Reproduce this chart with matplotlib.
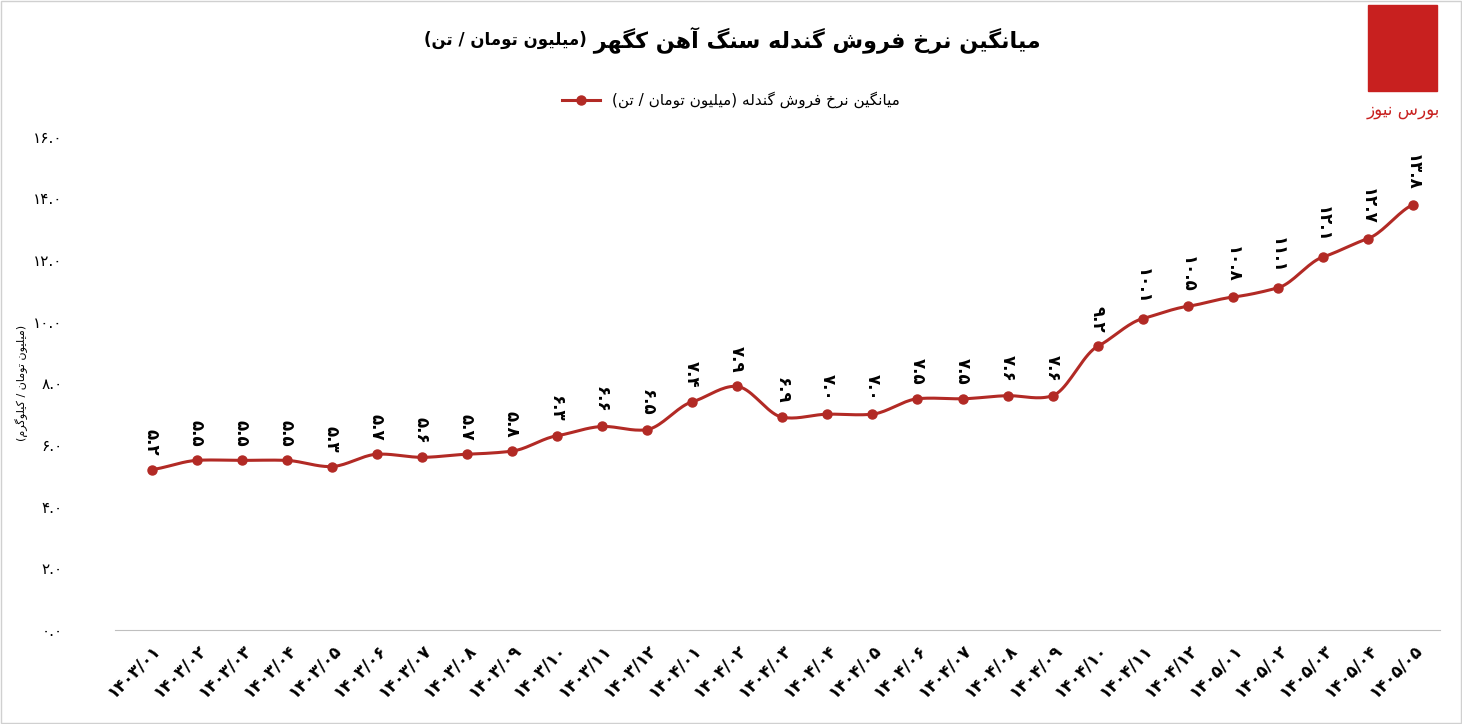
import numpy as np
import matplotlib.pyplot as plt
from matplotlib.patches import Rectangle

months = ['1403/01', '1403/02', '1403/03', '1403/04', '1403/05', '1403/06', '1403/07', '1403/08',
          '1403/09', '1403/10', '1403/11', '1403/12', '1404/01', '1404/02', '1404/03', '1404/04',
          '1404/05', '1404/06', '1404/07', '1404/08', '1404/09', '1404/10', '1404/11', '1404/12',
          '1405/01', '1405/02', '1405/03', '1405/04', '1405/05']
values = [5.2, 5.5, 5.5, 5.5, 5.3, 5.7, 5.6, 5.7, 5.8, 6.3, 6.6, 6.5, 7.4, 7.9, 6.9, 7.0,
          7.0, 7.5, 7.5, 7.6, 7.6, 9.2, 10.1, 10.5, 10.8, 11.1, 12.1, 12.7, 13.8]
yticks = [0, 2, 4, 6, 8, 10, 12, 14, 16]

title = 'میانگین نرخ فروش گندله سنگ آهن کگهر'
title2 = '(میلیون تومان / تن)'
legend_label = 'میانگین نرخ فروش گندله (میلیون تومان / تن)'
ylabel = '(میلیون تومان / کیلوگرم)'
logo_text = 'بورس نیوز'

RED = '#b22a25'

# minimal Persian shaping: (isolated, final, initial, medial)
FORMS = {
    'ا': (0xFE8D, 0xFE8E, None, None), 'آ': (0xFE81, 0xFE82, None, None),
    'ب': (0xFE8F, 0xFE90, 0xFE91, 0xFE92),
    'ت': (0xFE95, 0xFE96, 0xFE97, 0xFE98), 'خ': (0xFEA5, 0xFEA6, 0xFEA7, 0xFEA8),
    'د': (0xFEA9, 0xFEAA, None, None), 'ر': (0xFEAD, 0xFEAE, None, None),
    'ز': (0xFEAF, 0xFEB0, None, None), 'س': (0xFEB1, 0xFEB2, 0xFEB3, 0xFEB4),
    'ش': (0xFEB5, 0xFEB6, 0xFEB7, 0xFEB8), 'ف': (0xFED1, 0xFED2, 0xFED3, 0xFED4),
    'ل': (0xFEDD, 0xFEDE, 0xFEDF, 0xFEE0), 'م': (0xFEE1, 0xFEE2, 0xFEE3, 0xFEE4),
    'ن': (0xFEE5, 0xFEE6, 0xFEE7, 0xFEE8), 'ه': (0xFEE9, 0xFEEA, 0xFEEB, 0xFEEC),
    'و': (0xFEED, 0xFEEE, None, None), 'ی': (0xFBFC, 0xFBFD, 0xFBFE, 0xFBFF),
    'ک': (0xFB8E, 0xFB8F, 0xFB90, 0xFB91), 'گ': (0xFB92, 0xFB93, 0xFB94, 0xFB95),
}
MIRROR = {'(': ')', ')': '('}


def fa(s):
    out = []
    for i, c in enumerate(s):
        if c not in FORMS:
            out.append(MIRROR.get(c, c))
            continue
        prev = s[i - 1] if i > 0 else ''
        nxt = s[i + 1] if i + 1 < len(s) else ''
        join_prev = prev in FORMS and FORMS[prev][2] is not None
        join_next = FORMS[c][2] is not None and nxt in FORMS
        f = FORMS[c]
        if join_prev and join_next:
            code = f[3]
        elif join_prev:
            code = f[1]
        elif join_next:
            code = f[2]
        else:
            code = f[0]
        out.append(chr(code))
    return ''.join(out[::-1])


DIG = str.maketrans('0123456789', '۰۱۲۳۴۵۶۷۸۹')


def pd(s):
    return s.translate(DIG)


plt.rcParams['font.family'] = ['DejaVu Sans']
fig = plt.figure(figsize=(14.62, 7.24), dpi=100)
fig.patches.append(Rectangle((0.001, 0.001), 0.998, 0.998, transform=fig.transFigure,
                             fill=False, edgecolor='#d0d0d0', lw=1))
ax = fig.add_axes([0.079, 0.13, 0.906, 0.681])

x = np.arange(len(values))
# smooth drawing through the data points (cubic hermite)
xs, ys = [], []
v = np.array(values)
m = np.gradient(v)
for i in range(len(v) - 1):
    t = np.linspace(0, 1, 20)
    h00 = 2 * t**3 - 3 * t**2 + 1
    h10 = t**3 - 2 * t**2 + t
    h01 = -2 * t**3 + 3 * t**2
    h11 = t**3 - t**2
    xs.extend(i + t)
    ys.extend(h00 * v[i] + h10 * m[i] * 0.6 + h01 * v[i + 1] + h11 * m[i + 1] * 0.6)
ax.plot(xs, ys, color=RED, lw=2.2, clip_on=False)
ax.plot(x, values, 'o', color=RED, ms=6.5)
ax.plot([], [], '-o', color=RED, lw=2.2, ms=6.5, label=fa(legend_label))

for xi, val in zip(x, values):
    ax.text(xi, val + 0.45, pd(f'{val:.1f}'), rotation=-90, ha='center', va='bottom',
            fontsize=12, fontweight='bold')

ax.set_xlim(-0.8, len(values) - 0.4)
ax.set_ylim(0, 16)
ax.set_yticks(yticks)
ax.set_yticklabels([pd(f'{t:.1f}') for t in yticks], fontsize=11)
ax.set_xticks(x)
ax.set_xticklabels([pd(s) for s in months], rotation=45, ha='right', rotation_mode='anchor',
                   fontsize=12, fontweight='bold')
for s in ['top', 'right', 'left']:
    ax.spines[s].set_visible(False)
ax.spines['bottom'].set_color('#bfbfbf')
ax.tick_params(axis='y', length=0, pad=38)
ax.tick_params(axis='x', length=0, pad=8)
ax.set_ylabel(fa(ylabel), fontsize=8)
ax.yaxis.set_label_coords(-0.066, 0.5)

fig.text(0.401, 0.945, fa(title2), fontsize=12, fontweight='bold', ha='right', va='center')
fig.text(0.401, 0.945, ' ' + fa(title), fontsize=16, fontweight='bold', ha='left', va='center')
fig.legend(loc='center', bbox_to_anchor=(0.5, 0.862), frameon=False, fontsize=11,
           handlelength=2.5)

# logo
fig.patches.append(Rectangle((0.936, 0.875), 0.047, 0.118, transform=fig.transFigure,
                             color='#c8201f'))
fig.text(0.96, 0.86, fa(logo_text), color='#c8201f', fontsize=12, ha='center', va='top')

fig.savefig('out.png', dpi=100)
